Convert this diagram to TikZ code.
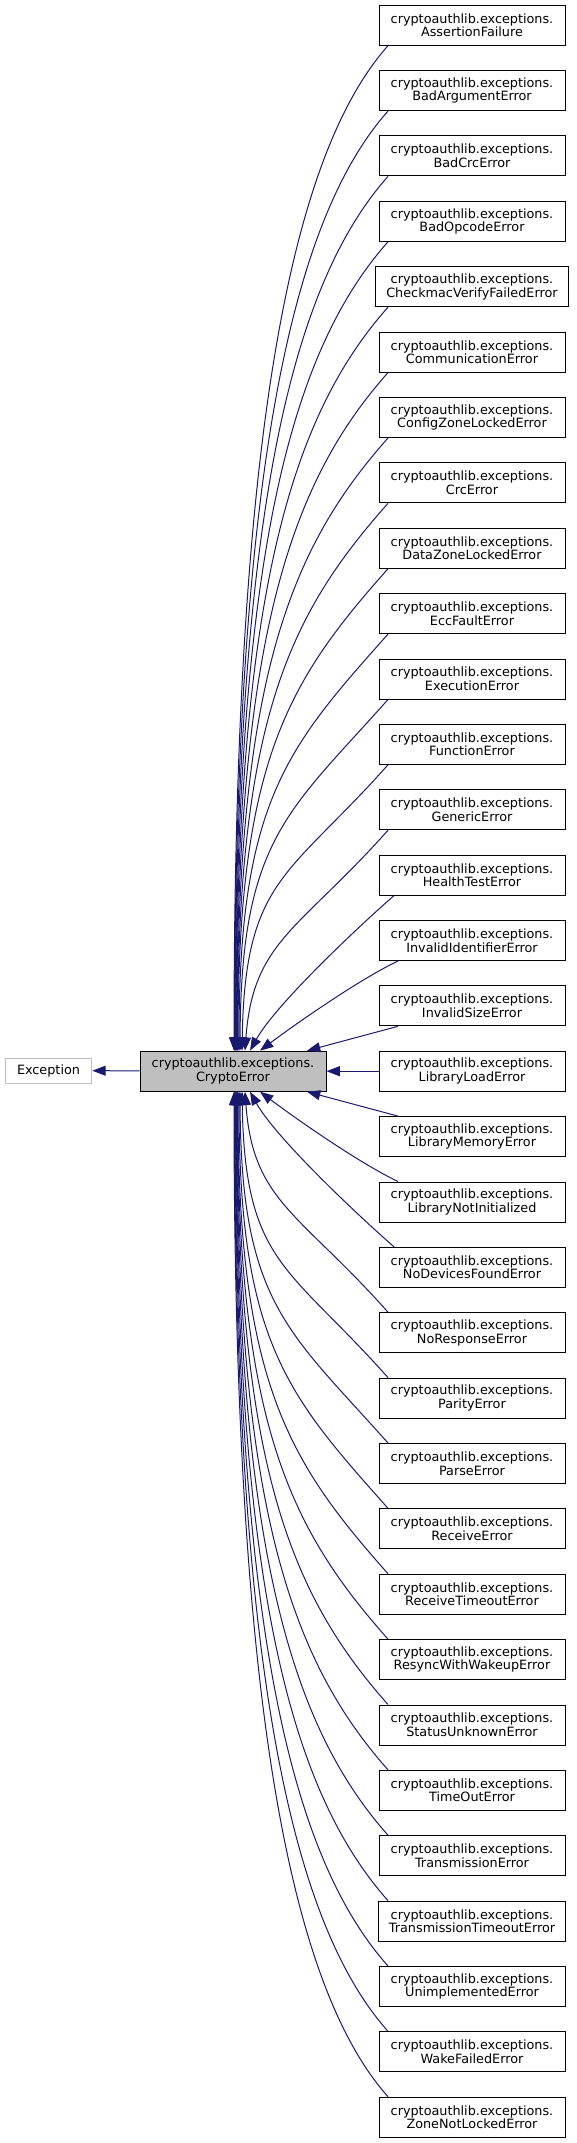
\documentclass[tikz,border=0pt]{standalone}
\usepackage{fontspec}
\setmainfont{DejaVu Sans}
\usepackage{xcolor}
\usepackage{tikz}
\usetikzlibrary{arrows.meta}
\usetikzlibrary{calc}

\definecolor{edgeblue}{HTML}{191970}
\definecolor{grey75}{HTML}{BFBFBF}

\begin{document}
\begin{tikzpicture}[
  x=0.75pt, y=-0.75pt,
  box/.style={
      draw=black,
      fill=white,
      line width=0.75pt,
      minimum width=139.5pt,
      minimum height=30pt,
      inner xsep=8pt,
      align=center,
      font=\fontsize{9.6}{10.2}\selectfont
  },
  arr/.style={-{Triangle[length=10pt,width=7.5pt]}, draw=edgeblue, fill=none, line width=0.75pt}
]
\useasboundingbox (0,0) rectangle (576,2143);

\node[box, draw=grey75, minimum width=65pt, minimum height=18.75pt] (exception) at (48.5,1070.5) {Exception};
\node[box, fill=grey75] (crypto) at (233,1071.2) {cryptoauthlib.exceptions.\\CryptoError};

\node[box] (assertion)     at (472,25.2)   {cryptoauthlib.exceptions.\\AssertionFailure};
\node[box] (badarg)        at (472,90.6)   {cryptoauthlib.exceptions.\\BadArgumentError};
\node[box] (badcrc)        at (472,155.9)  {cryptoauthlib.exceptions.\\BadCrcError};
\node[box] (badopcode)     at (472,221.3)  {cryptoauthlib.exceptions.\\BadOpcodeError};
\node[box] (checkmac)      at (472,286.7)  {cryptoauthlib.exceptions.\\CheckmacVerifyFailedError};
\node[box] (comm)          at (472,352.1)  {cryptoauthlib.exceptions.\\CommunicationError};
\node[box] (configzone)    at (472,417.5)  {cryptoauthlib.exceptions.\\ConfigZoneLockedError};
\node[box] (crc)           at (472,482.8)  {cryptoauthlib.exceptions.\\CrcError};
\node[box] (datazone)      at (472,548.2)  {cryptoauthlib.exceptions.\\DataZoneLockedError};
\node[box] (eccfault)      at (472,613.6)  {cryptoauthlib.exceptions.\\EccFaultError};
\node[box] (exec)          at (472,679.0)  {cryptoauthlib.exceptions.\\ExecutionError};
\node[box] (function)      at (472,744.3)  {cryptoauthlib.exceptions.\\FunctionError};
\node[box] (generic)       at (472,809.7)  {cryptoauthlib.exceptions.\\GenericError};
\node[box] (healthtest)    at (472,875.1)  {cryptoauthlib.exceptions.\\HealthTestError};
\node[box] (invalidid)     at (472,940.5)  {cryptoauthlib.exceptions.\\InvalidIdentifierError};
\node[box] (invalidsize)   at (472,1005.8) {cryptoauthlib.exceptions.\\InvalidSizeError};
\node[box] (libload)       at (472,1071.2) {cryptoauthlib.exceptions.\\LibraryLoadError};
\node[box] (libmem)        at (472,1136.6) {cryptoauthlib.exceptions.\\LibraryMemoryError};
\node[box] (libnotinit)    at (472,1202.0) {cryptoauthlib.exceptions.\\LibraryNotInitialized};
\node[box] (nodevices)     at (472,1267.3) {cryptoauthlib.exceptions.\\NoDevicesFoundError};
\node[box] (noresponse)    at (472,1332.7) {cryptoauthlib.exceptions.\\NoResponseError};
\node[box] (parity)        at (472,1398.1) {cryptoauthlib.exceptions.\\ParityError};
\node[box] (parse)         at (472,1463.5) {cryptoauthlib.exceptions.\\ParseError};
\node[box] (receive)       at (472,1528.8) {cryptoauthlib.exceptions.\\ReceiveError};
\node[box] (rcvtimeout)    at (472,1594.2) {cryptoauthlib.exceptions.\\ReceiveTimeoutError};
\node[box] (resync)        at (472,1659.6) {cryptoauthlib.exceptions.\\ResyncWithWakeupError};
\node[box] (statusunknown) at (472,1725.0) {cryptoauthlib.exceptions.\\StatusUnknownError};
\node[box] (timeout)       at (472,1790.3) {cryptoauthlib.exceptions.\\TimeOutError};
\node[box] (transmission)  at (472,1855.7) {cryptoauthlib.exceptions.\\TransmissionError};
\node[box] (txtimeout)     at (472,1921.1) {cryptoauthlib.exceptions.\\TransmissionTimeoutError};
\node[box] (unimpl)        at (472,1986.5) {cryptoauthlib.exceptions.\\UnimplementedError};
\node[box] (wakefailed)    at (472,2051.8) {cryptoauthlib.exceptions.\\WakeFailedError};
\node[box] (zonenotlocked) at (472,2117.2) {cryptoauthlib.exceptions.\\ZoneNotLockedError};

\draw[arr] (crypto) -- (exception);
\draw[arr] (libload) -- (crypto);

% children above
\draw[arr] ($(assertion.south)+(-84,0)$)   .. controls +(-100,112.5) and +(0,-603.5) .. ($(crypto.north)+(1,0)$);
\draw[arr] ($(badarg.south)+(-84,0)$)      .. controls +(-100,112.5) and +(0,-564.2) .. ($(crypto.north)+(1.5,0)$);
\draw[arr] ($(badcrc.south)+(-84,0)$)      .. controls +(-100,112.5) and +(0,-525.1) .. ($(crypto.north)+(2,0)$);
\draw[arr] ($(badopcode.south)+(-84,0)$)   .. controls +(-100,112.5) and +(0,-485.8) .. ($(crypto.north)+(2.5,0)$);
\draw[arr] ($(checkmac.south)+(-84,0)$)    .. controls +(-100,112.5) and +(0,-446.6) .. ($(crypto.north)+(3,0)$);
\draw[arr] ($(comm.south)+(-84,0)$)        .. controls +(-100,112.5) and +(0,-407.3) .. ($(crypto.north)+(3.5,0)$);
\draw[arr] ($(configzone.south)+(-84,0)$)  .. controls +(-100,112.5) and +(0,-368.2) .. ($(crypto.north)+(4,0)$);
\draw[arr] ($(crc.south)+(-84,0)$)         .. controls +(-100,112.5) and +(0,-328.9) .. ($(crypto.north)+(4.5,0)$);
\draw[arr] ($(datazone.south)+(-84,0)$)    .. controls +(-100,112.5) and +(0,-289.7) .. ($(crypto.north)+(5,0)$);
\draw[arr] ($(eccfault.south)+(-84,0)$)    .. controls +(-100,112.5) and +(0,-250.4) .. ($(crypto.north)+(6,0)$);
\draw[arr] ($(exec.south)+(-84,0)$)        .. controls +(-100,112.5) and +(1,-211.3) .. ($(crypto.north)+(7,0)$);
\draw[arr] ($(function.south)+(-84,0)$)    .. controls +(-100,112.5) and +(3,-172) .. ($(crypto.north)+(9,0)$);
\draw[arr] ($(generic.south)+(-84,0)$)     .. controls +(-88.5,99.6) and +(8,-110) .. ($(crypto.north)+(12,0)$);
\draw[arr] ($(healthtest.south)+(-78,0)$)  .. controls +(-40,35) and +(25,-45) .. ($(crypto.north)+(17,0)$);
\draw[arr] ($(invalidid.south)+(-74,0)$)   .. controls +(-36,17) and +(40,-30) .. ($(crypto.north)+(27,0)$);
\draw[arr] ($(invalidsize.south)+(-74,0)$) -- ($(crypto.north)+(74,0)$);

% children below
\draw[arr] ($(libmem.north)+(-74,0)$)        -- ($(crypto.south)+(74,0)$);
\draw[arr] ($(libnotinit.north)+(-74,0)$)    .. controls +(-36,-17) and +(40,30) .. ($(crypto.south)+(27,0)$);
\draw[arr] ($(nodevices.north)+(-78,0)$)     .. controls +(-40,-35) and +(25,45) .. ($(crypto.south)+(17,0)$);
\draw[arr] ($(noresponse.north)+(-84,0)$)    .. controls +(-88.5,-99.6) and +(8,110) .. ($(crypto.south)+(12,0)$);
\draw[arr] ($(parity.north)+(-84,0)$)        .. controls +(-100,-112.5) and +(3,172) .. ($(crypto.south)+(9,0)$);
\draw[arr] ($(parse.north)+(-84,0)$)         .. controls +(-100,-112.5) and +(1,211.3) .. ($(crypto.south)+(7,0)$);
\draw[arr] ($(receive.north)+(-84,0)$)       .. controls +(-100,-112.5) and +(0,250.4) .. ($(crypto.south)+(6,0)$);
\draw[arr] ($(rcvtimeout.north)+(-84,0)$)    .. controls +(-100,-112.5) and +(0,289.7) .. ($(crypto.south)+(5,0)$);
\draw[arr] ($(resync.north)+(-84,0)$)        .. controls +(-100,-112.5) and +(0,328.9) .. ($(crypto.south)+(4.5,0)$);
\draw[arr] ($(statusunknown.north)+(-84,0)$) .. controls +(-100,-112.5) and +(0,368.2) .. ($(crypto.south)+(4,0)$);
\draw[arr] ($(timeout.north)+(-84,0)$)       .. controls +(-100,-112.5) and +(0,407.3) .. ($(crypto.south)+(3.5,0)$);
\draw[arr] ($(transmission.north)+(-84,0)$)  .. controls +(-100,-112.5) and +(0,446.6) .. ($(crypto.south)+(3,0)$);
\draw[arr] ($(txtimeout.north)+(-84,0)$)     .. controls +(-100,-112.5) and +(0,485.8) .. ($(crypto.south)+(2.5,0)$);
\draw[arr] ($(unimpl.north)+(-84,0)$)        .. controls +(-100,-112.5) and +(0,525.1) .. ($(crypto.south)+(2,0)$);
\draw[arr] ($(wakefailed.north)+(-84,0)$)    .. controls +(-100,-112.5) and +(0,564.2) .. ($(crypto.south)+(1.5,0)$);
\draw[arr] ($(zonenotlocked.north)+(-84,0)$) .. controls +(-100,-112.5) and +(0,603.5) .. ($(crypto.south)+(1,0)$);

\end{tikzpicture}
\end{document}
